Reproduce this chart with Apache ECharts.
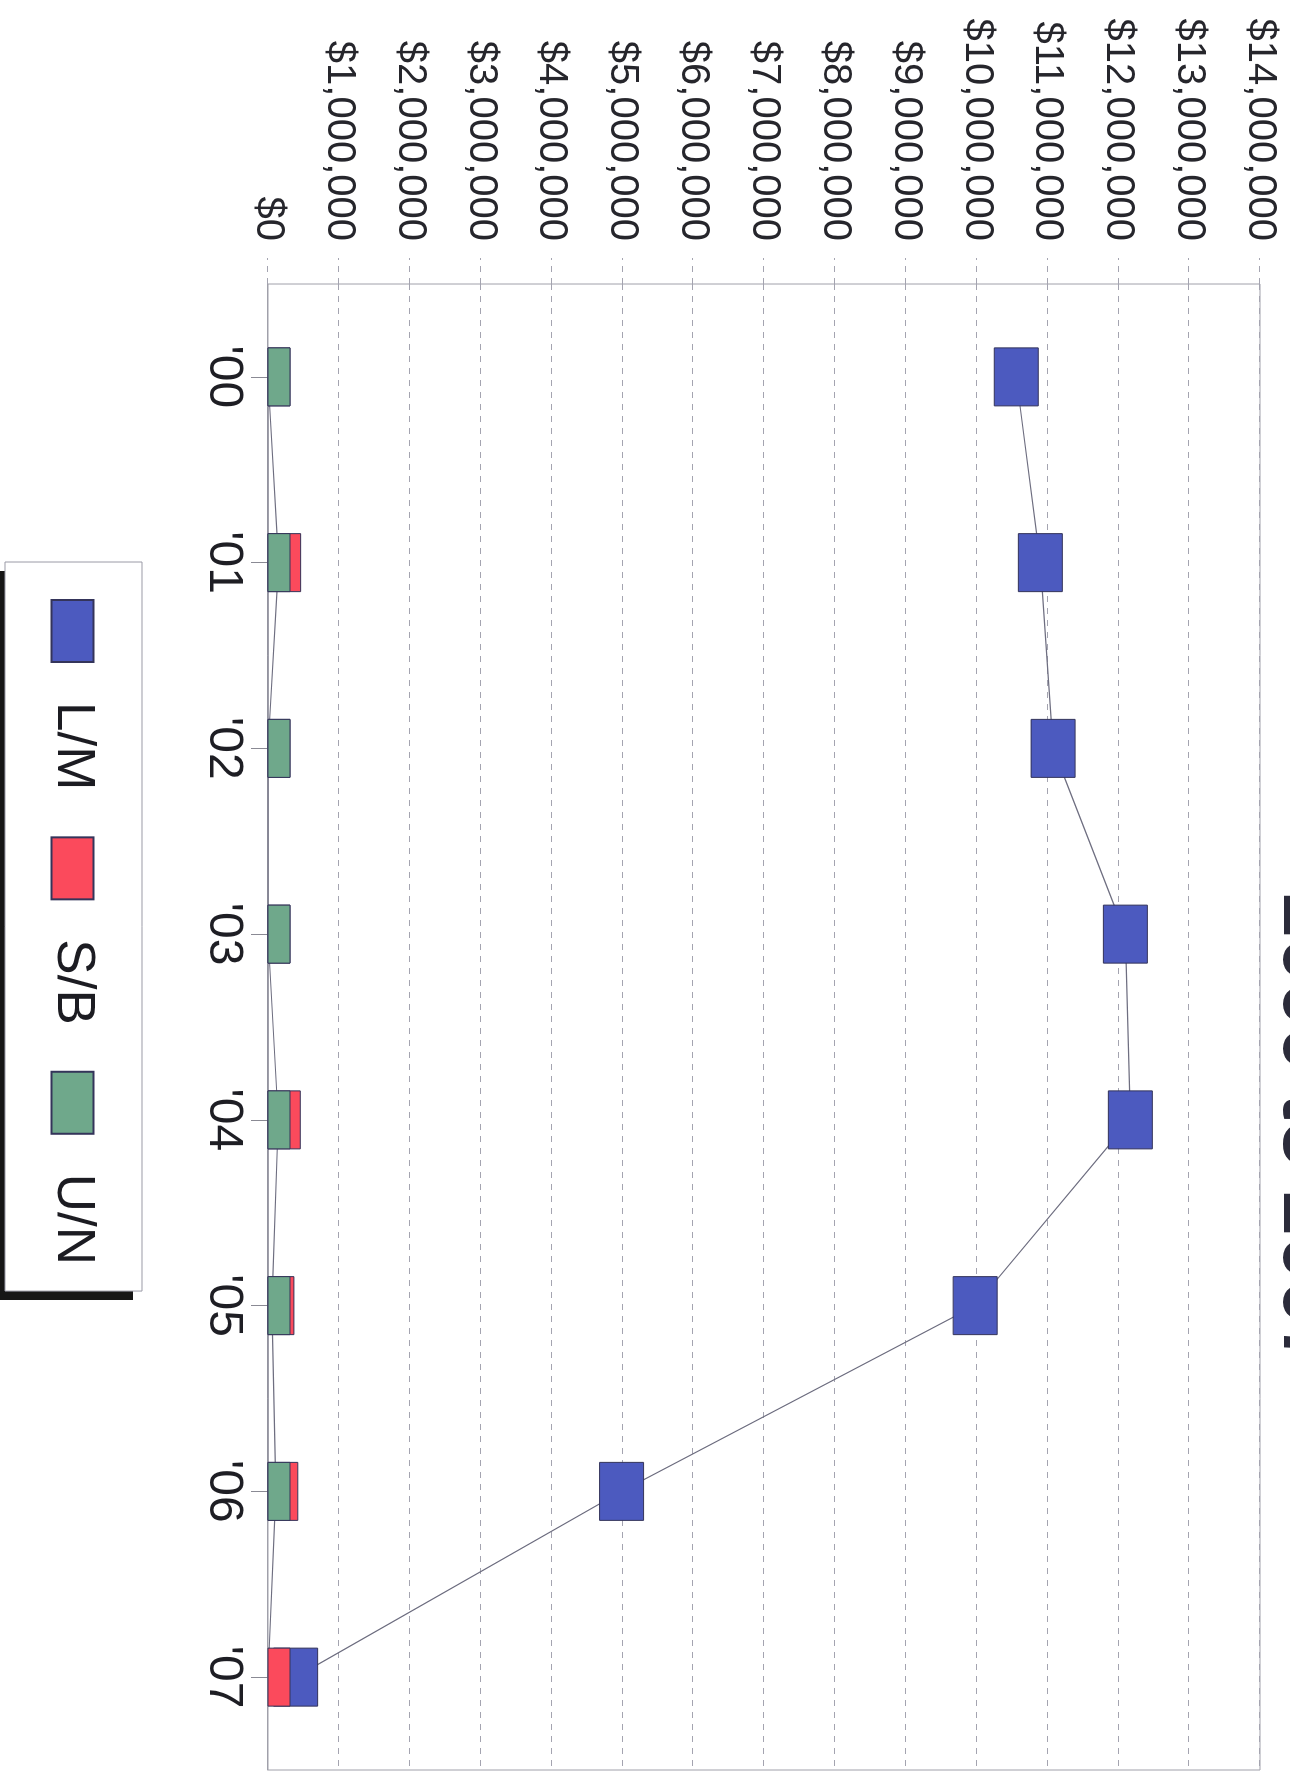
<!DOCTYPE html>
<html>
<head>
<meta charset="utf-8">
<script src="https://cdn.jsdelivr.net/npm/echarts@6/dist/echarts.min.js"></script>
<style>
  html, body { margin: 0; padding: 0; background: #fff; overflow: hidden; width: 1290px; height: 1773px; }
  /* the chart is laid out landscape and turned a quarter clockwise onto the portrait page */
  #chart {
    position: absolute; left: 0; top: 0;
    width: 1773px; height: 1290px;
    transform-origin: 0 0;
    transform: translate(1290px, 0) rotate(90deg);
  }
</style>
</head>
<body>
<div id="chart"></div>
<script>
// Years on the category axis
const years = ["'00", "'01", "'02", "'03", "'04", "'05", "'06", "'07"];

// Dollar amounts per group and year
const lmValues = [10560000, 10900000, 11080000, 12100000, 12170000, 9980000, 4990000, 390000];
const sbValues = [0, 150000, 0, 0, 145000, 55000, 110000, 0];
const unValues = [0, 0, 0, 0, 0, 0, 0, null];

// Value axis range
const axisMin = 0;
const axisMax = 14000000;
const axisStep = 1000000;

const FONT = "'Liberation Sans', Arial, sans-serif";
const MARK_W = 58;   // marker extent along the year axis
const MARK_H = 44;   // marker extent along the dollar axis

function money(v) {
  return '$' + Math.round(v).toLocaleString('en-US');
}

// Rectangular markers, clipped to the plot area
function boxMarker(params, api) {
  const v = api.value(1);
  if (v === null || v === undefined || isNaN(v)) return null;
  const c = api.coord([api.value(0), v]);
  const cs = params.coordSys;
  const rect = echarts.graphic.clipRectByRect(
    { x: c[0] - MARK_W / 2, y: c[1] - MARK_H / 2, width: MARK_W, height: MARK_H },
    { x: cs.x, y: cs.y, width: cs.width, height: cs.height }
  );
  if (!rect) return null;
  return { type: 'rect', shape: rect, style: api.style() };
}

function pairs(values) {
  return values.map((v, i) => [i, v]).filter(d => d[1] !== null);
}

function markerSeries(name, values, color) {
  return {
    name: name,
    type: 'custom',
    renderItem: boxMarker,
    data: pairs(values),
    encode: { x: 0, y: 1 },
    z: 3,
    itemStyle: { color: color, borderColor: '#34345a', borderWidth: 1 }
  };
}

function lineSeries(name, values) {
  return {
    name: name,
    type: 'line',
    data: values,
    symbol: 'none',
    connectNulls: false,
    z: 2,
    lineStyle: { color: '#6e6e80', width: 1.2 },
    silent: true
  };
}

const chart = echarts.init(document.getElementById('chart'));

chart.setOption({
  animation: false,
  backgroundColor: '#ffffff',
  title: {
    text: '2000 to 2007',
    left: 893,
    top: -56,
    padding: 0,
    textStyle: { fontFamily: FONT, fontSize: 80, fontWeight: 'bold', color: '#2b2b3a' }
  },
  // drop shadow behind the legend box
  graphic: [{
    type: 'rect',
    z: 90,
    shape: { x: 571, y: 1157, width: 729, height: 140 },
    style: { fill: '#161616' }
  }],
  legend: {
    data: [
      { name: 'L/M', icon: 'rect' },
      { name: 'S/B', icon: 'rect' },
      { name: 'U/N', icon: 'rect' }
    ],
    z: 100,
    orient: 'horizontal',
    left: 562,
    top: 1148,
    padding: [43, 26, 41, 37],
    itemWidth: 62,
    itemHeight: 42,
    itemGap: 46,
    backgroundColor: '#ffffff',
    borderColor: '#9a9aa6',
    borderWidth: 1,
    selectedMode: false,
    textStyle: { fontFamily: FONT, fontSize: 53, color: '#1c1c22', padding: [0, 0, 0, 35] }
  },
  grid: {
    left: 284,
    right: 3,
    top: 30,
    bottom: 268,
    show: true,
    borderColor: '#a0a0aa',
    borderWidth: 1,
    backgroundColor: 'transparent'
  },
  xAxis: {
    type: 'category',
    data: years,
    boundaryGap: true,
    axisLine: { show: true, lineStyle: { color: '#a0a0aa', width: 1 } },
    axisTick: { show: true, alignWithLabel: true, length: 17, lineStyle: { color: '#8a8a94' } },
    axisLabel: { fontFamily: FONT, fontSize: 48, color: '#1e1e24', margin: 21 },
    splitLine: { show: false }
  },
  yAxis: {
    type: 'value',
    min: axisMin,
    max: axisMax,
    interval: axisStep,
    axisLine: { show: false },
    axisTick: { show: true, length: 26, lineStyle: { color: '#a4a4b0', type: [6, 6] } },
    axisLabel: { fontFamily: FONT, fontSize: 40, color: '#26262c', margin: 43, formatter: money },
    splitLine: { show: true, lineStyle: { color: '#a4a4b0', width: 1, type: [6, 6] } }
  },
  series: [
    markerSeries('L/M', lmValues, '#4c5abf'),
    markerSeries('S/B', sbValues, '#fb4a5c'),
    markerSeries('U/N', unValues, '#6fa88b'),
    lineSeries('L/M', lmValues),
    lineSeries('S/B', sbValues),
    lineSeries('U/N', unValues)
  ]
});
</script>
</body>
</html>
